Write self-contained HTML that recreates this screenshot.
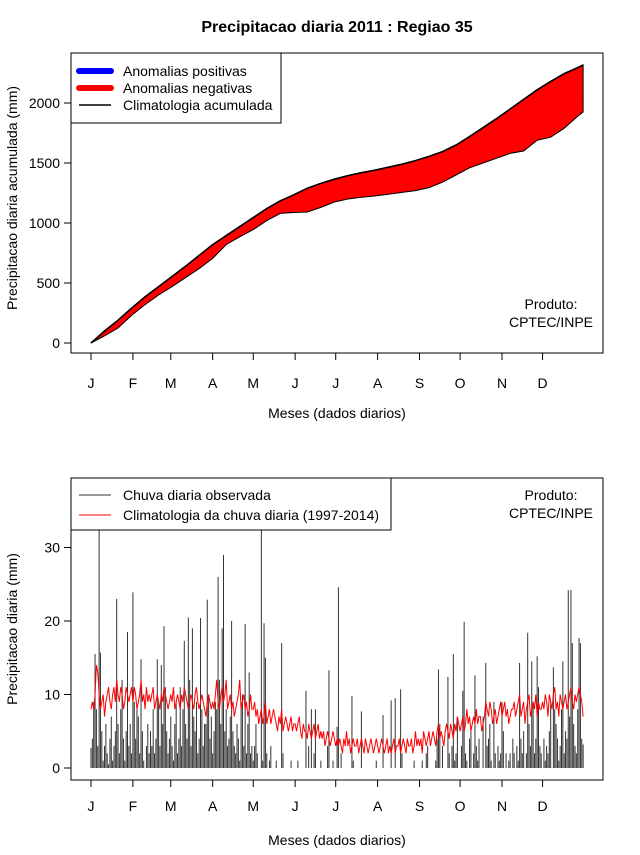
<!DOCTYPE html>
<html><head><meta charset="utf-8"><style>
body{margin:0;background:#fff}
svg text{font-family:"Liberation Sans",sans-serif;fill:#000}
</style></head><body>
<svg id="c" width="640" height="850" xmlns="http://www.w3.org/2000/svg">
<text x="337" y="32" font-size="16" font-weight="bold" text-anchor="middle">Precipitacao diaria 2011 : Regiao 35</text>
<g id="top"></g><g id="bot"></g>
</svg>
<script>
const monthLabels=["J","F","M","A","M","J","J","A","S","O","N","D"];
const monthStartDays=[1,32,60,91,121,152,182,213,244,274,305,335];
const topTicks=[0,500,1000,1500,2000];
const botTicks=[0,10,20,30];
const cumDays=[1,11,21,31,41,51,61,71,81,91,101,111,121,131,141,151,161,171,181,191,201,211,221,231,241,251,261,271,281,291,301,311,321,331,341,351,361,365];
const climCum=[0,100,190,290,385,470,555,640,730,820,895,970,1045,1120,1185,1235,1290,1330,1365,1395,1420,1440,1465,1490,1520,1555,1595,1650,1720,1795,1870,1950,2030,2110,2180,2245,2295,2317];
const obsCum=[0,60,125,230,320,400,470,545,620,705,820,885,945,1020,1080,1088,1092,1130,1175,1200,1215,1225,1240,1255,1270,1295,1340,1400,1460,1500,1540,1580,1600,1690,1715,1790,1890,1925];
const obsDaily=[2.7,4,9,15.5,8,3,35,15.7,5,1,3,6,2,0.5,4,7,1,3,5,23,6,2,8,12,4,1,5,18.5,3,6,2,
23.9,9,4,8,7,2,14.8,5,1,0,3,6,2,5,3,8,2,4,14.8,9,3,14,6,19.3,11,5,2,4,
7,3,1,6,9,2,4,11,3,8,17.3,6,4,20.5,12,3,19,7,5,9,2,4,20.4,8,3,6,6,22.9,10,4,7,
2,5,9,8,26,12,6,19,29,5,8,3,4,7,20,5,3,2,6,4,1,9,10,3,19.6,2,6,13,2,3,
1,3,6,2,0,0,40,1,19.7,15,2,0,1,3,0,0,0,1,0,0,0,17,2,0,0,0,0,0,1,0,0,
0,0,1,0,0,0,0,0,10.5,0,3,0,8,0,2,8,0,0,0,1,0,0,0,0,3,13.3,0,0,1,0,
0,5.6,24.6,0,2,0,0,0,0,0,0,0,9.8,1,0,0,0,0,0,7.7,0,0,0,0,0,0,0,0,0,0,1,
0,0,0,0,7.2,0,0,0,0,0,9.2,0,0,9.5,0,0,0,10.7,2,0,0,0,0,0,0,0,0,1,0,0,0,
0,0,1,0,0,2,3,0,0,0,0,0,1,4,13.4,6,0,3,0,0,0,12.4,2,0,3,15.5,1,2,7,0,
0,3,10.5,19.9,2,1,0,4,5,0,2,12.6,3,1,4,0,0,7,0,14.3,3,4,6,1,0,9,2,0,3,1,2,
9,5,0,2,0,1,2,0,4,2,0,3,1,14.3,4,2,5,0,2,18.4,6,3,14.5,9,2,4,15.2,11,3,2,
0,4,1,3,2,5,9,0,13.7,8,6,4,1,3,8,14.5,2,5,4,24.2,7,24.2,17,6,3,2,8,17.7,17,4,3.2];
const climDaily=[8,9,8,10,14,13,10,8,9,10,7,9,10,11,9,8,10,11,9,12,10,9,11,10,8,9,11,10,9,10,11,
9,11,10,8,9,10,12,9,10,8,11,9,10,9,10,11,8,9,10,9,8,10,9,11,10,9,8,9,
10,9,11,8,9,10,9,8,10,9,11,10,9,8,9,10,9,8,10,11,9,8,9,10,9,8,7,9,10,9,8,
9,8,10,12,9,8,10,11,9,10,12,8,9,10,8,9,7,8,9,10,12,8,9,10,8,9,7,8,10,8,
8,9,7,8,6,7,8,6,7,9,6,7,8,6,7,8,7,6,5,7,6,8,5,6,7,6,5,6,7,5,6,
6,5,6,7,5,4,6,5,5,4,6,5,4,5,6,4,5,6,4,5,4,5,3,4,5,4,3,4,5,4,
3,4,3,4,3,2,4,3,5,3,4,2,3,4,3,3,4,2,3,4,3,2,4,3,2,3,4,3,2,3,4,
3,2,3,4,3,2,3,4,2,3,2,3,4,2,3,3,4,2,3,4,3,2,4,3,3,4,2,3,5,3,4,
3,4,2,5,4,3,4,5,3,4,5,4,3,5,6,4,5,4,3,5,6,5,4,6,5,4,6,5,7,6,
5,6,7,5,6,8,6,7,5,6,7,6,8,6,7,7,5,6,7,9,8,7,9,8,6,7,8,6,7,8,9,
7,8,9,7,8,6,7,8,8,9,7,8,9,10,7,8,9,6,8,9,10,7,8,9,8,10,7,9,8,8,
9,8,10,9,7,10,9,8,10,11,8,9,7,10,9,8,9,10,8,9,10,11,9,8,10,9,10,11,10,9,7];

const NS="http://www.w3.org/2000/svg";
function mk(p,t,a,txt){const e=document.createElementNS(NS,t);for(const k in a)e.setAttribute(k,a[k]);if(txt!==undefined)e.textContent=txt;p.appendChild(e);return e;}
const xd=d=>91+(d-1)*1.352;
const yTop=v=>343-v*0.12;
const yBot=v=>768-v*7.35;
const T=document.getElementById('top'),B=document.getElementById('bot');

function frame(g,y0,y1,axisY,labY,titleY,pre){
  let r=mk(g,'rect',{x:71,y:y0,width:532,height:y1-y0,fill:'none',stroke:'#000','stroke-width':1});
  
  let ax=mk(g,'line',{x1:xd(1),x2:xd(335),y1:axisY,y2:axisY,stroke:'#000'});
  
  monthStartDays.forEach((d,i)=>{
    mk(g,'line',{x1:xd(d),x2:xd(d),y1:axisY,y2:axisY+7,stroke:'#000'});
    let t=mk(g,'text',{x:xd(d),y:labY,'font-size':14,'text-anchor':'middle'},monthLabels[i]);
    
  });
  let xt=mk(g,'text',{x:337,y:titleY,'font-size':14,'text-anchor':'middle'},'Meses (dados diarios)');
  
}
frame(T,53,353,353,388,418,'top');
mk(T,'line',{x1:71,x2:71,y1:yTop(0),y2:yTop(2000),stroke:'#000'});
topTicks.forEach(v=>{mk(T,'line',{x1:64,x2:71,y1:yTop(v),y2:yTop(v),stroke:'#000'});
 let t=mk(T,'text',{x:60,y:yTop(v)+5,'font-size':14,'text-anchor':'end'},v);
 });
let yt=mk(T,'text',{x:17,y:198,'font-size':14,'text-anchor':'middle',transform:'rotate(-90 17 198)'},'Precipitacao diaria acumulada (mm)');

let pts=cumDays.map((d,i)=>xd(d)+','+yTop(climCum[i]));
let pts2=cumDays.map((d,i)=>xd(d)+','+yTop(obsCum[i])).reverse();
let poly=mk(T,'polygon',{points:pts.concat(pts2).join(' '),fill:'#ff0000',stroke:'#000','stroke-width':1});

let cl=mk(T,'polyline',{points:pts.join(' '),fill:'none',stroke:'#000','stroke-width':1.6});

let lg=mk(T,'g',{});
mk(lg,'rect',{x:71,y:53,width:210,height:70,fill:'#fff',stroke:'#000'});
[['#0000ff',6,'Anomalias positivas'],['#ff0000',6,'Anomalias negativas'],['#000',1.5,'Climatologia acumulada']].forEach((e,i)=>{
 let y=71+i*17;
 mk(lg,'line',{x1:79,x2:111,y1:y,y2:y,stroke:e[0],'stroke-width':e[1],'stroke-linecap':e[1]>2?'round':'butt'});
 let t=mk(lg,'text',{x:123,y:y+5,'font-size':14},e[2]);
 
});
let p1=mk(T,'text',{x:551,y:309,'font-size':14,'text-anchor':'middle'},'Produto:');

mk(T,'text',{x:551,y:327,'font-size':14,'text-anchor':'middle'},'CPTEC/INPE');

frame(B,478,780,780,811,845,'bottom');
mk(B,'line',{x1:71,x2:71,y1:yBot(0),y2:yBot(30),stroke:'#000'});
botTicks.forEach(v=>{mk(B,'line',{x1:64,x2:71,y1:yBot(v),y2:yBot(v),stroke:'#000'});
 let t=mk(B,'text',{x:60,y:yBot(v)+5,'font-size':14,'text-anchor':'end'},v);
 });
let yt2=mk(B,'text',{x:17,y:629,'font-size':14,'text-anchor':'middle',transform:'rotate(-90 17 629)'},'Precipitacao diaria (mm)');

let bars=mk(B,'g',{stroke:'#333','stroke-width':1});

for(let i=0;i<obsDaily.length;i++){
 const v=obsDaily[i];if(!v)continue;
 let l=mk(bars,'line',{x1:xd(i+1),x2:xd(i+1),y1:yBot(0),y2:Math.max(480,yBot(v))});
 
 
}
let rl=mk(B,'polyline',{points:climDaily.map((v,i)=>xd(i+1)+','+yBot(v)).join(' '),fill:'none',stroke:'#ff0000','stroke-width':1});

let lg2=mk(B,'g',{});
mk(lg2,'rect',{x:71,y:478,width:320,height:52,fill:'#fff',stroke:'#000'});
[['#333','Chuva diaria observada'],['#ff0000','Climatologia da chuva diaria (1997-2014)']].forEach((e,i)=>{
 let y=495+i*20;
 mk(lg2,'line',{x1:79,x2:111,y1:y,y2:y,stroke:e[0],'stroke-width':1});
 let t=mk(lg2,'text',{x:123,y:y+5,'font-size':14},e[1]);
 
});
let p2=mk(B,'text',{x:551,y:500,'font-size':14,'text-anchor':'middle'},'Produto:');

mk(B,'text',{x:551,y:518,'font-size':14,'text-anchor':'middle'},'CPTEC/INPE');
</script>
</body></html>
